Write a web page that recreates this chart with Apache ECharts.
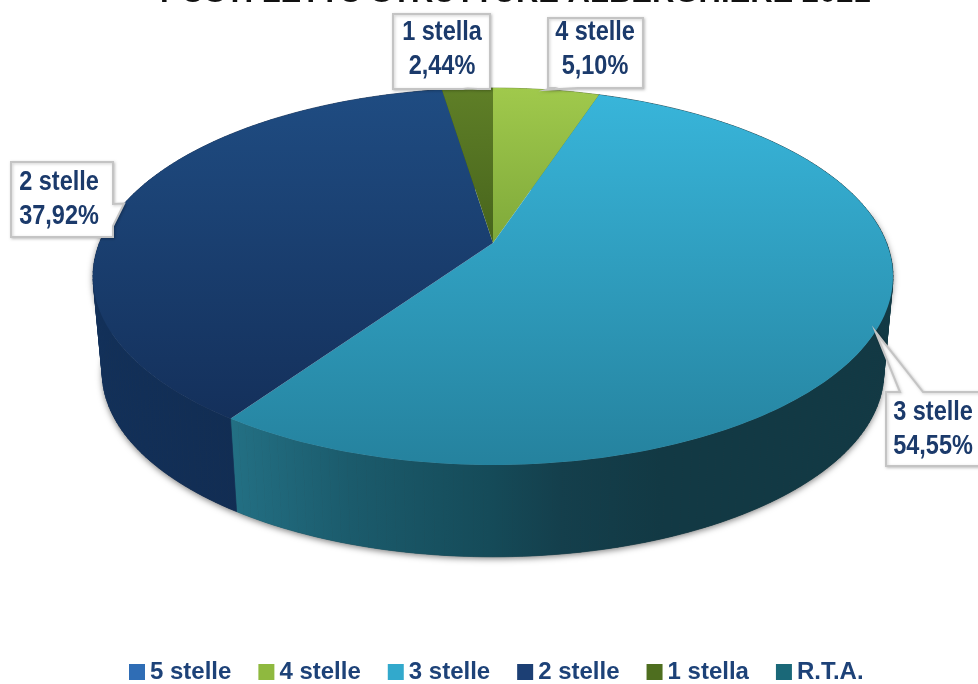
<!DOCTYPE html>
<html>
<head>
<meta charset="utf-8">
<style>html,body{margin:0;padding:0;background:#fff}#c{width:978px;height:684px}</style>
<script src="https://cdn.jsdelivr.net/npm/echarts@6/dist/echarts.min.js"></script>
</head>
<body>
<div id="c"></div>
<script>
const titleText = 'POSTI LETTO STRUTTURE ALBERGHIERE 2021';
const categories = ['5 stelle', '4 stelle', '3 stelle', '2 stelle', '1 stella', 'R.T.A.'];
const shares = [0, 5.10, 54.55, 37.92, 2.44, 0];
const legendColors = ['#2f6db5', '#8fb93f', '#32a9cc', '#1c3f74', '#4e6e1f', '#1a6878'];
const topGradients = [
  ['#3a78c0', '#2a5f9f'], ['#a0c94c', '#7fa93a'], ['#38b5da', '#25829e'],
  ['#1f4c82', '#14305b'], ['#5f7f27', '#47641c'], ['#1f7c8e', '#155c6c']
];
const sideStops = [
  [[0, '#24558f'], [1, '#1a3f6c']],
  [[0, '#6f8f2e'], [1, '#56702a']],
  [[0, '#237084'], [0.18, '#1b5b6c'], [0.39, '#154b59'], [0.5, '#143f4c'], [0.65, '#123944'], [1, '#123944']],
  [[0, '#123059'], [1, '#11294b']],
  [[0, '#3b5216'], [1, '#2f4212']],
  [[0, '#155c6c'], [1, '#0f4450']]
];
const calloutBoxes = {
  '4 stelle': {x: 548, y: 18, w: 95, h: 70, edge: 'bottom', a: 552, b: 578, tx: 595, ty: 50},
  '3 stelle': {x: 886, y: 392, w: 100, h: 74, edge: 'top', a: 900, b: 923, tx: 933, ty: 430},
  '2 stelle': {x: 11, y: 162, w: 102, h: 75, edge: 'right', a: 204, b: 226, tx: 59, ty: 200},
  '1 stella': {x: 393, y: 14, w: 97, h: 75, edge: 'bottom', a: 463, b: 478, tx: 442, ty: 50}
};
const topFace = {cx: 493, cy: 243, R: 393.6, S: 182.5, k: 0.1777};
const baseFace = {cx: 493, cy: 340, R: 384.5, S: 178.3, k: 0.1777};
const shadowRange = [22, 78];
const labelFont = '"Liberation Sans",Arial,sans-serif';
const textColor = '#1b3a6b';

const total = shares.reduce((a, b) => a + b, 0);
const starts = [];
shares.reduce((acc, v, i) => { starts[i] = acc; return acc + v; }, 0);

function project(face, pct) {
  const t = pct / total * 2 * Math.PI;
  const w = 1 + face.k * Math.cos(t);
  return [face.cx + face.R * Math.sin(t) / w, face.cy - face.S * Math.cos(t) / w];
}
function arc(face, from, to) {
  const n = Math.max(2, Math.ceil((to - from) * 3));
  const pts = [];
  for (let i = 0; i <= n; i++) pts.push(project(face, from + (to - from) * i / n));
  return pts;
}
function linear(cols) {
  return new echarts.graphic.LinearGradient(0, 0, 0, 1, [
    {offset: 0, color: cols[0]}, {offset: 1, color: cols[1]}
  ]);
}

function renderTop(idx) {
  return function (params, api) {
    const v = api.value(0), s = api.value(1);
    if (!v) return null;
    const pts = [[topFace.cx, topFace.cy]].concat(arc(topFace, s, s + v));
    return {type: 'polygon', shape: {points: pts}, style: {fill: linear(topGradients[idx])}};
  };
}
function renderSide(params, api) {
  const v = api.value(0), s = api.value(1), idx = api.value(2);
  if (!v) return null;
  const T = arc(topFace, s, s + v), B = arc(baseFace, s, s + v);
  const xs = T.concat(B).map(p => p[0]);
  const fill = new echarts.graphic.LinearGradient(
    Math.min(...xs), 0, Math.max(...xs), 0,
    sideStops[idx].map(p => ({offset: p[0], color: p[1]})), true);
  const children = [];
  for (let i = 0; i < T.length - 1; i++) {
    children.push({
      type: 'polygon', shape: {points: [T[i], T[i + 1], B[i + 1], B[i]]},
      style: {fill: fill, stroke: fill, lineWidth: 0.7}
    });
  }
  return {type: 'group', children};
}
function renderShadow(params, api) {
  const v = api.value(0), s = api.value(1);
  const from = Math.max(s, shadowRange[0]), to = Math.min(s + v, shadowRange[1]);
  if (to <= from) return null;
  const pts = arc(topFace, from, to).concat(arc(baseFace, from, to).reverse());
  return {
    type: 'polygon', shape: {points: pts},
    style: {fill: '#333', shadowBlur: 6, shadowColor: 'rgba(0,0,0,0.5)', shadowOffsetX: 0, shadowOffsetY: 2}
  };
}
function calloutPoints(b, tip) {
  const r = b.x + b.w, d = b.y + b.h;
  if (b.edge === 'bottom') return [[b.x, b.y], [r, b.y], [r, d], [b.b, d], tip, [b.a, d], [b.x, d]];
  if (b.edge === 'top') return [[b.x, b.y], [b.a, b.y], tip, [b.b, b.y], [r, b.y], [r, d], [b.x, d]];
  return [[b.x, b.y], [r, b.y], [r, b.a], tip, [r, b.b], [r, d], [b.x, d]];
}
function renderCallout(params, api) {
  const v = api.value(0), s = api.value(1), idx = api.value(2);
  if (!v) return null;
  const name = categories[idx];
  const b = calloutBoxes[name];
  const tip = project(topFace, s + v / 2);
  return {
    type: 'group',
    children: [{
      type: 'polygon', shape: {points: calloutPoints(b, tip)},
      style: {fill: '#fff', stroke: '#c4c4c4', lineWidth: 2,
        shadowBlur: 3, shadowColor: 'rgba(0,0,0,0.2)', shadowOffsetX: 1, shadowOffsetY: 1}
    }, {
      type: 'text', x: b.tx, y: b.ty, scaleX: 0.87,
      style: {
        x: 0, y: 0,
        text: name + '\n' + v.toFixed(2).replace('.', ',') + '%',
        fill: textColor, font: 'bold 27px ' + labelFont,
        lineHeight: 34, align: 'center', verticalAlign: 'middle'
      }
    }]
  };
}

const rows = categories.map((c, i) => [shares[i], starts[i], i]);
const series = [
  {type: 'custom', name: 'ombra', coordinateSystem: 'none', z: 1, silent: true, renderItem: renderShadow, data: rows},
  {type: 'custom', name: 'lati', coordinateSystem: 'none', z: 2, silent: true, renderItem: renderSide, data: rows},
  ...categories.map((c, i) => ({
    type: 'custom', name: c, coordinateSystem: 'none', z: 3,
    itemStyle: {color: legendColors[i]},
    renderItem: renderTop(i), data: [rows[i]]
  })),
  {type: 'custom', name: 'etichette', coordinateSystem: 'none', z: 5, silent: true, renderItem: renderCallout, data: rows}
];

const chart = echarts.init(document.getElementById('c'), null, {renderer: 'canvas'});
chart.setOption({
  animation: false,
  backgroundColor: '#fff',
  title: {
    text: titleText, left: 155, top: -27,
    textStyle: {fontFamily: labelFont, fontWeight: 'bold', fontSize: 31, color: '#111'}
  },
  legend: {
    data: categories, left: 124, top: 655, itemWidth: 16, itemHeight: 16, itemGap: 27,
    selectedMode: false, icon: 'rect',
    textStyle: {fontFamily: labelFont, fontWeight: 'bold', fontSize: 24, color: '#1d4278'}
  },
  series
});
</script>
</body>
</html>
